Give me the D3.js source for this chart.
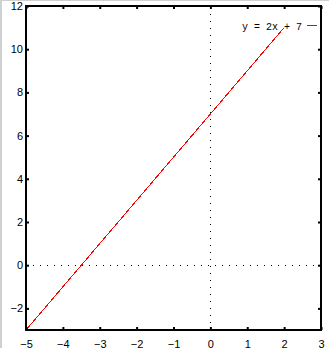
<!DOCTYPE html>
<html>
<head>
<meta charset="utf-8">
<script src="https://cdn.jsdelivr.net/npm/d3@7"></script>
<style>
  body { margin: 0; background: #fff; }
  svg { display: block; }
  text { font-family: "Liberation Sans", Arial, sans-serif; font-size: 11px; fill: #000; }
</style>
</head>
<body>
<svg id="chart"></svg>
<script>
// Data: y = 2x + 7 sampled at its end points
const lineX = [-5, 2];
const lineY = [-3, 11];
const xTicks = [-5, -4, -3, -2, -1, 0, 1, 2, 3];
const yTicks = [-2, 0, 2, 4, 6, 8, 10, 12];
const legendLabel = "y = 2x + 7";

const width = 329, height = 352;
const margin = { top: 6, right: 8, bottom: 22, left: 26 };

const svg = d3.select("#chart").attr("width", width).attr("height", height);

// light grey border strips seen at the image edges
svg.append("rect").attr("x", 0).attr("y", 0).attr("width", width).attr("height", 1).attr("fill", "#d0d0d0");
svg.append("rect").attr("x", 0).attr("y", 0).attr("width", 2).attr("height", 348).attr("fill", "#d0d0d0");

const x = d3.scaleLinear().domain([-5, 3]).range([margin.left, width - margin.right]);
const y = d3.scaleLinear().domain([-3, 12]).range([height - margin.bottom, margin.top]);

// Dotted zero lines
const g = svg.append("g");
g.append("line")
    .attr("x1", Math.round(x(0)) + 0.5).attr("x2", Math.round(x(0)) + 0.5)
    .attr("y1", y(-3)).attr("y2", y(12))
    .attr("stroke", "#000").attr("stroke-width", 1).attr("stroke-dasharray", "1,6");
g.append("line")
    .attr("x1", x(-5)).attr("x2", x(3))
    .attr("y1", Math.round(y(0)) + 0.5).attr("y2", Math.round(y(0)) + 0.5)
    .attr("stroke", "#000").attr("stroke-width", 1).attr("stroke-dasharray", "1,6");

// The line
const pts = lineX.map((d, i) => [d, lineY[i]]);
g.append("path")
    .datum(pts)
    .attr("d", d3.line().x(d => x(d[0])).y(d => y(d[1])))
    .attr("fill", "none").attr("stroke", "#ff0000").attr("stroke-width", 1)
    .attr("shape-rendering", "crispEdges");

// Axes: ticks inward on all four sides, labels on bottom and left
const tickLen = 3;
const fmt = d => d < 0 ? "\u2212" + (-d) : d;
svg.append("g")
    .attr("transform", `translate(0,${y(-3)})`)
    .call(d3.axisBottom(x).tickValues(xTicks).tickSizeInner(-tickLen).tickSizeOuter(0).tickPadding(10).tickFormat(fmt))
    .call(a => a.select(".domain").remove());
svg.append("g")
    .attr("transform", `translate(${x(-5)},0)`)
    .call(d3.axisLeft(y).tickValues(yTicks).tickSizeInner(-tickLen).tickSizeOuter(0).tickPadding(3).tickFormat(fmt))
    .call(a => a.select(".domain").remove());
svg.append("g")
    .attr("transform", `translate(0,${y(12)})`)
    .call(d3.axisTop(x).tickValues(xTicks).tickSizeInner(-tickLen).tickSizeOuter(0).tickFormat(""))
    .call(a => a.select(".domain").remove());
svg.append("g")
    .attr("transform", `translate(${x(3)},0)`)
    .call(d3.axisRight(y).tickValues(yTicks).tickSizeInner(-tickLen).tickSizeOuter(0).tickFormat(""))
    .call(a => a.select(".domain").remove());

svg.selectAll(".tick line").attr("stroke", "#000").attr("stroke-width", 2);
svg.selectAll(".tick text").style("font-family", "Liberation Sans, Arial, sans-serif").style("font-size", "11px").attr("fill", "#000");

// Frame
svg.append("rect")
    .attr("x", x(-5)).attr("y", y(12))
    .attr("width", x(3) - x(-5)).attr("height", y(-3) - y(12))
    .attr("fill", "none").attr("stroke", "#000").attr("stroke-width", 2);

// Legend
const ly = 25.5;
svg.append("text")
    .attr("x", 302).attr("y", ly + 4)
    .attr("text-anchor", "end")
    .style("font-family", "Liberation Mono, DejaVu Sans Mono, monospace")
    .style("font-size", "10px")
    .text(legendLabel);
svg.append("line")
    .attr("x1", 307).attr("x2", 317)
    .attr("y1", ly).attr("y2", ly)
    .attr("stroke", "#ff0000").attr("stroke-width", 1)
    .attr("shape-rendering", "crispEdges");
</script>
</body>
</html>
